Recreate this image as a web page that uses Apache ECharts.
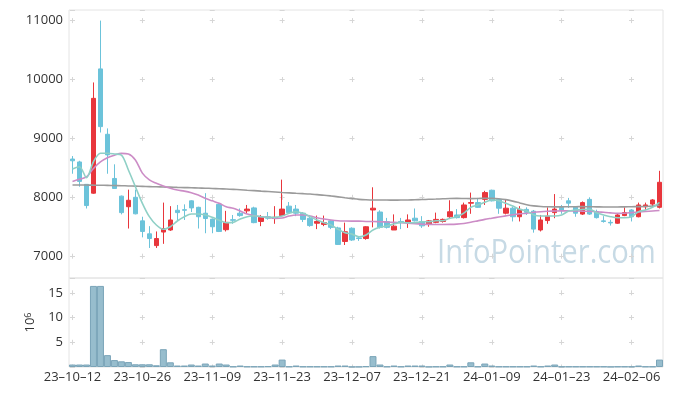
<!DOCTYPE html>
<html><head><meta charset="utf-8">
<script src="https://cdn.jsdelivr.net/npm/echarts@6/dist/echarts.min.js"></script>
<style>html,body{margin:0;padding:0;background:#fff}#c{width:673px;height:396px}</style>
</head><body><div id="c"></div>
<script>
const dates = ['23-10-12','23-10-13','23-10-16','23-10-17','23-10-18','23-10-19','23-10-20','23-10-23','23-10-24','23-10-25',
'23-10-26','23-10-27','23-10-30','23-10-31','23-11-01','23-11-02','23-11-03','23-11-06','23-11-07','23-11-08',
'23-11-09','23-11-10','23-11-13','23-11-14','23-11-15','23-11-16','23-11-17','23-11-20','23-11-21','23-11-22',
'23-11-23','23-11-24','23-11-27','23-11-28','23-11-29','23-11-30','23-12-01','23-12-04','23-12-05','23-12-06',
'23-12-07','23-12-08','23-12-11','23-12-12','23-12-13','23-12-14','23-12-15','23-12-18','23-12-19','23-12-20',
'23-12-21','23-12-22','23-12-26','23-12-27','23-12-28','24-01-02','24-01-03','24-01-04','24-01-05','24-01-08',
'24-01-09','24-01-10','24-01-11','24-01-12','24-01-15','24-01-16','24-01-17','24-01-18','24-01-19','24-01-22',
'24-01-23','24-01-24','24-01-25','24-01-26','24-01-29','24-01-30','24-01-31','24-02-01','24-02-02','24-02-05',
'24-02-06','24-02-07','24-02-08','24-02-13','24-02-14'];

const opens  = [8650,8600,8220,8070,10180,9070,8320,8020,7840,8000,7600,7380,7180,7410,7445,7780,7790,7940,7830,7730,
7630,7880,7450,7620,7730,7770,7820,7590,7670,7640,7690,7850,7800,7730,7645,7560,7540,7600,7480,7250,
7475,7310,7300,7785,7750,7585,7445,7590,7575,7645,7590,7550,7575,7590,7670,7700,7655,7900,7910,7965,
8120,7965,7730,7815,7670,7795,7765,7445,7605,7740,7830,7940,7840,7715,7965,7755,7600,7575,7560,7690,
7785,7670,7840,7885,7830];
const closes = [8620,8270,7860,9680,9200,8720,8150,7740,7950,7720,7420,7300,7300,7470,7615,7740,7780,7820,7670,7640,
7500,7420,7575,7610,7690,7800,7570,7660,7645,7660,7800,7740,7730,7625,7520,7590,7570,7490,7200,7415,
7275,7300,7500,7815,7490,7490,7510,7575,7615,7600,7515,7600,7625,7625,7755,7655,7870,7910,7830,8080,
7940,7815,7815,7670,7795,7745,7460,7615,7680,7800,7785,7900,7730,7910,7715,7655,7590,7565,7700,7740,
7670,7870,7870,7955,8255];
const lows   = [8400,8180,7810,8060,9100,8400,8150,7710,7470,7710,7320,7140,7140,7210,7430,7610,7615,7750,7470,7390,
7390,7410,7420,7550,7670,7720,7560,7510,7620,7550,7690,7730,7680,7580,7500,7460,7510,7460,7190,7190,
7260,7260,7280,7490,7470,7470,7445,7460,7480,7590,7480,7500,7560,7570,7630,7640,7640,7720,7820,7870,
7930,7720,7710,7590,7590,7700,7400,7420,7550,7645,7720,7820,7670,7700,7700,7640,7570,7520,7550,7680,
7590,7660,7780,7830,7810];
const highs  = [8700,8620,8220,9950,11000,9170,8560,8030,8130,8130,7670,7510,7420,7910,7850,7870,7880,7950,7840,8070,
7640,7900,7770,7700,7810,7870,7840,7700,7750,7850,8300,7920,7870,7750,7700,7690,7690,7610,7500,7570,
7490,7340,7510,8170,7780,7650,7710,7650,7710,7810,7680,7615,7740,7640,7950,7800,7910,8080,7990,8110,
8130,7985,7965,7840,7850,7830,7785,7700,7830,8055,7870,7990,7850,7930,8000,7790,7680,7620,7720,7830,
7800,7910,7910,7970,8450];

const maShort = [8480,8520,8333,8604,8747,8747,8735,8718,8463,8180,7898,7671,7530,7457,7501,7598,7671,7716,7716,7700,
7660,7610,7569,7575,7632,7671,7688,7671,7660,7660,7682,7728,7756,7728,7671,7615,7569,7530,7457,7399,
7375,7330,7360,7445,7490,7513,7547,7575,7569,7569,7586,7586,7603,7603,7643,7671,7730,7830,7869,7915,
7954,7943,7898,7852,7796,7767,7700,7682,7682,7682,7700,7767,7784,7796,7796,7739,7700,7671,7654,7654,
7671,7756,7784,7830,7915];
const maMid = [8270,8305,8345,8490,8600,8670,8715,8745,8735,8635,8410,8295,8238,8192,8153,8124,8105,8078,8039,7983,
7940,7898,7840,7813,7767,7716,7688,7671,7660,7643,7650,7682,7700,7700,7682,7654,7632,7615,7603,7598,
7595,7595,7590,7590,7585,7580,7575,7568,7560,7552,7545,7540,7538,7538,7540,7545,7555,7575,7600,7625,
7645,7665,7685,7705,7720,7730,7745,7755,7762,7767,7770,7770,7768,7765,7762,7755,7745,7735,7728,7730,
7740,7750,7760,7768,7775];
const maLong = [8210,8210,8208,8206,8205,8203,8200,8197,8193,8190,8186,8182,8178,8175,8172,8168,8165,8162,8158,8155,
8150,8145,8140,8135,8128,8120,8113,8105,8098,8090,8082,8075,8068,8062,8055,8045,8035,8022,8008,7992,
7978,7965,7958,7955,7955,7953,7952,7953,7955,7958,7962,7966,7970,7975,7980,7982,7980,7978,7980,7983,
7982,7975,7960,7935,7905,7875,7855,7845,7840,7838,7838,7840,7840,7842,7840,7838,7835,7835,7836,7838,
7840,7842,7845,7852,7865];

// volume in millions of shares (axis unit 10^6)
const volumes = [0.5,0.5,0.5,16.4,16.4,2.4,1.4,1.15,1.0,0.55,0.55,0.55,0.35,3.6,0.95,0.3,0.3,0.5,0.3,0.7,
0.3,0.7,0.5,0.1,0.3,0.1,0.1,0.1,0.15,0.5,1.5,0.1,0.3,0.1,0.1,0.1,0.1,0.1,0.3,0.3,
0.05,0.05,0.15,2.2,0.5,0.1,0.3,0.1,0.3,0.3,0.3,0.05,0.1,0.1,0.5,0.1,0.1,0.95,0.1,0.7,
0.3,0.1,0.1,0.1,0.1,0.1,0.3,0.1,0.3,0.5,0.1,0.1,0.1,0.1,0.1,0.1,0.1,0.05,0.1,0.1,
0.1,0.3,0.1,0.1,1.5];

const candles = opens.map((o, i) => [o, closes[i], lows[i], highs[i]]);

const FONT = '"Open Sans", "Noto Sans", sans-serif';
const crossColor = '#d6d6d6';
const borderColor = '#e4e4e4';

const chart = echarts.init(document.getElementById('c'), null, {renderer: 'canvas'});
chart.setOption({
  animation: false,
  backgroundColor: '#fff',
  grid: [
    {left: 69, top: 10, width: 594, height: 268, show: true, borderColor: borderColor, borderWidth: 1, backgroundColor: 'transparent'},
    {left: 69, top: 278, width: 594, height: 89, show: true, borderColor: borderColor, borderWidth: 1, backgroundColor: 'transparent'}
  ],
  xAxis: [
    {type: 'category', gridIndex: 0, data: dates, boundaryGap: true,
     axisLine: {show: false}, axisTick: {show: false}, axisLabel: {show: false},
     splitLine: {show: true, interval: 9, alignWithLabel: true,
       lineStyle: {color: crossColor, width: 1, type: [5, 53.9], dashOffset: 50.8}}},
    {type: 'category', gridIndex: 1, data: dates, boundaryGap: true,
     axisLine: {show: false}, axisTick: {show: false},
     axisLabel: {interval: 9, margin: 4, fontSize: 13, color: '#333', fontFamily: FONT,
       formatter: v => v.replace(/-/g, '\u2013')},
     splitLine: {show: true, interval: 9, alignWithLabel: true,
       lineStyle: {color: crossColor, width: 1, type: [5, 19.72], dashOffset: 12.39}}}
  ],
  yAxis: [
    {type: 'value', gridIndex: 0, min: 6630, max: 11180, splitNumber: 5, scale: true,
     axisLine: {show: false}, axisTick: {show: false},
     axisLabel: {margin: 6, fontSize: 13, color: '#333', fontFamily: FONT, showMinLabel: false, showMaxLabel: false,
       formatter: v => String(v)},
     splitLine: {show: true, lineStyle: {color: crossColor, width: 1, type: [5, 64.88], dashOffset: 68.886}}},
    {type: 'value', gridIndex: 1, min: 0, max: 18, interval: 5,
     name: '{a|10}{b|6}', nameLocation: 'middle', nameRotate: 90, nameGap: 30,
     nameTextStyle: {rich: {a: {fontSize: 13, color: '#333', fontFamily: FONT}, b: {fontSize: 9, color: '#333', fontFamily: FONT, verticalAlign: 'top'}}},
     axisLine: {show: false}, axisTick: {show: false},
     axisLabel: {margin: 6, fontSize: 13, color: '#333', fontFamily: FONT, showMinLabel: false, showMaxLabel: false,
       formatter: v => String(v)},
     splitLine: {show: true, lineStyle: {color: crossColor, width: 1, type: [5, 64.88], dashOffset: 68.886}}}
  ],
  graphic: [
    {type: 'text', x: 437, y: 254, scaleX: 0.885, z: 0, silent: true,
     style: {text: 'InfoPointer.com', x: 0, y: 0, fill: '#c7dae5', font: '33px "Open Sans"', textAlign: 'left', textVerticalAlign: 'middle'}}
  ],
  series: [
    {type: 'candlestick', xAxisIndex: 0, yAxisIndex: 0, data: candles, barWidth: 5,
     itemStyle: {color: '#e8363c', color0: '#6cc3da', borderColor: '#e8363c', borderColor0: '#6cc3da', borderWidth: 1}},
    {type: 'line', xAxisIndex: 0, yAxisIndex: 0, data: maLong, symbol: 'none', smooth: 0.3,
     lineStyle: {color: '#9b9b9b', width: 1.6}},
    {type: 'line', xAxisIndex: 0, yAxisIndex: 0, data: maMid, symbol: 'none', smooth: 0.3,
     lineStyle: {color: '#cc8cc6', width: 1.6}},
    {type: 'line', xAxisIndex: 0, yAxisIndex: 0, data: maShort, symbol: 'none', smooth: 0.3,
     lineStyle: {color: '#8fd0c6', width: 1.6}},
    {type: 'bar', xAxisIndex: 1, yAxisIndex: 1, data: volumes, barCategoryGap: '0%',
     itemStyle: {color: '#97bdcd', borderColor: '#7aa4b8', borderWidth: 1}}
  ]
});
</script>
</body></html>
